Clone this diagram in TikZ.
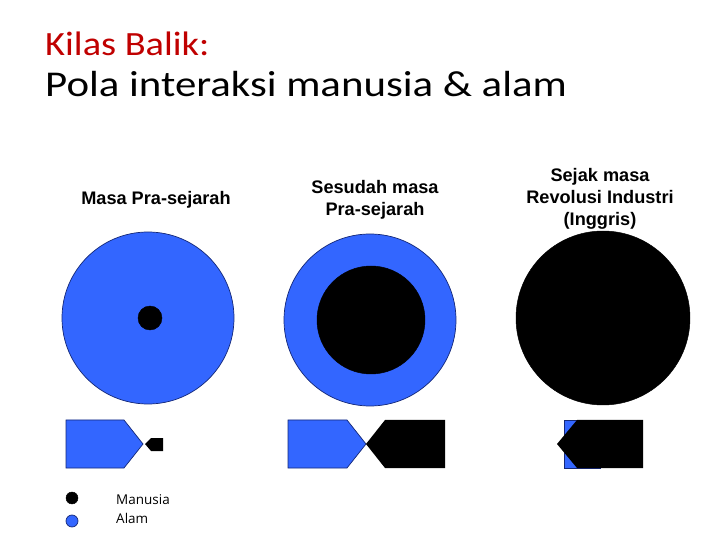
\documentclass[tikz,border=0pt]{standalone}
\usepackage{fontspec}
\setmainfont{Liberation Sans}
\newfontfamily\titlefont[FakeStretch=1.13]{Carlito}
\newfontfamily\polafont[FakeStretch=1.18]{Carlito}
\newfontfamily\legendfont{Open Sans}
\definecolor{alamblue}{RGB}{51,102,255}
\definecolor{edgeblue}{RGB}{20,40,120}
\definecolor{titlered}{RGB}{192,0,0}
\tikzset{
  alam/.style={fill=alamblue, draw=edgeblue, line width=0.6pt},
  manusia/.style={fill=black, draw=black},
  era/.style={font=\fontsize{15.5}{19}\selectfont\bfseries, align=center},
  titletext/.style={anchor=base west, inner sep=0pt},
  legendtext/.style={anchor=base west, inner sep=0pt, font=\legendfont\fontsize{11.5}{14}\selectfont},
}

\begin{document}
\begin{tikzpicture}[x=0.03cm, y=-0.03cm]
	\useasboundingbox (0,0) rectangle (720,540);
	% title
	\node [titletext, text=titlered, font=\titlefont\fontsize{29}{34}\selectfont] (kilas) at (45,56) {Kilas Balik:};
	\node [titletext, font=\polafont\fontsize{31}{36}\selectfont] (pola) at (45,97) {Pola interaksi manusia \& alam};
	% the three eras
	\node [era] (pra) at (156,200) {Masa Pra-sejarah};
	\node [era] (sesudah) at (375,200) {Sesudah masa\\Pra-sejarah};
	\node [era] (revolusi) at (600,199) {Sejak masa\\Revolusi Industri\\(Inggris)};
	% circles
	\draw [alam] (148,318) circle (86);
	\draw [manusia] (150,318) circle (12);
	\draw [alam] (370,320) circle (86);
	\draw [manusia] (371,320) circle (54);
	\draw [manusia] (603,318) circle (87);
	% blocks
	\draw [alam] (66,420) -- (124,420) -- (143,444) -- (124,468) -- (66,468) -- cycle;
	\fill [black] (145,444) -- (151,438) -- (163,438) -- (163,451) -- (151,451) -- cycle;
	\draw [alam] (288,420) -- (347,420) -- (366,444) -- (347,468) -- (288,468) -- cycle;
	\fill [black] (366,444) -- (385,420) -- (445,420) -- (445,468) -- (385,468) -- cycle;
	\draw [alam] (564,420) rectangle (600,468);
	\fill [black] (557,444) -- (577,420) -- (643,420) -- (643,468) -- (577,468) -- cycle;
	% legend
	\draw [manusia] (72,498) circle (6);
	\draw [alam] (72,521) circle (6);
	\node [legendtext] (lmanusia) at (116,504) {Manusia};
	\node [legendtext] (lalam) at (116,523) {Alam};
\end{tikzpicture}
\end{document}
